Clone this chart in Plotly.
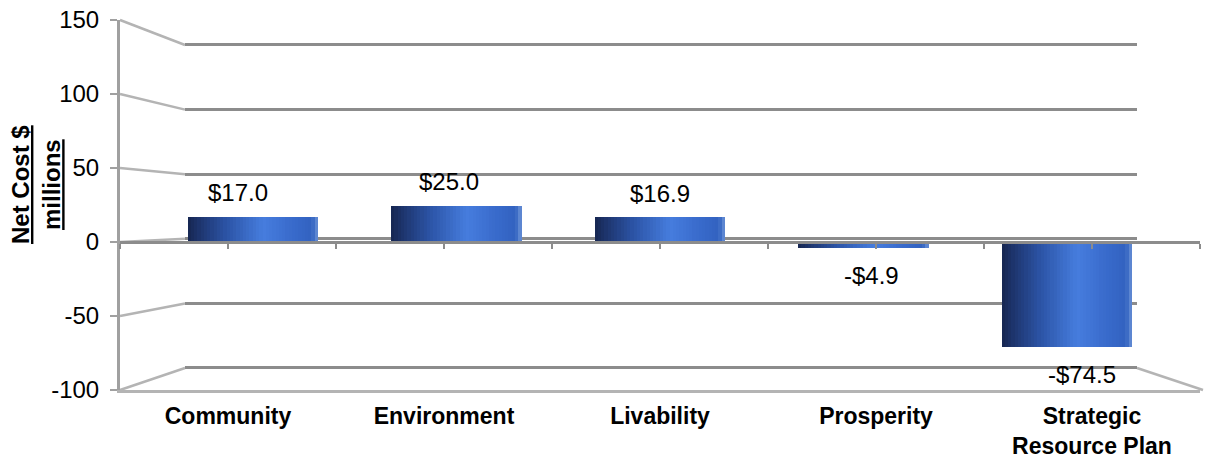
import plotly.graph_objects as go

# ---------------- data ----------------
categories = ["Community", "Environment", "Livability", "Prosperity", "Strategic<br>Resource Plan"]
net_cost = [17.0, 25.0, 16.9, -4.9, -74.5]
value_labels = ["$17.0", "$25.0", "$16.9", "-$4.9", "-$74.5"]
y_ticks = [-100, -50, 0, 50, 100, 150]
y_ticktext = ["-100", "-50", "0", "50", "100", "150"]

# ---------------- geometry (pixels) ----------------
W, H = 1205, 460
def fx(px):
    return px / W
def fy(py):
    return 1 - py / H

YMIN, YMAX = -100, 150
FRONT_L, FRONT_R = 120, 1200      # front (category) axis
BACK_L, BACK_R = 185, 1137        # back wall
LEFT_TOP, LEFT_BOT = 20, 390      # left axis: 150 / -100
BACK_TOP, BACK_BOT = 45, 368      # back wall: 150 / -100
BAR_TOP, BAR_BOT = 28, 383        # bar plane: 150 / -100
BAR_C, BAR_STEP = 660, 203.5

def y_left(v):
    return LEFT_BOT - (v - YMIN) / (YMAX - YMIN) * (LEFT_BOT - LEFT_TOP)
def y_back(v):
    return BACK_BOT - (v - YMIN) / (YMAX - YMIN) * (BACK_BOT - BACK_TOP)

EXT = 2  # small range extension so edge gridlines are drawn
FONT = "Liberation Sans, Arial, sans-serif"
n = len(categories)
xs = list(range(n))

fig = go.Figure()

# ---- back wall gridlines (subplot x/y) ----
fig.add_trace(go.Scatter(x=[None], y=[None], xaxis="x", yaxis="y", showlegend=False, hoverinfo="skip"))

# ---- gradient cylinders (subplot x2/y2) ----
stops = [
    (0.00, (22, 38, 80)),
    (0.10, (30, 54, 112)),
    (0.30, (44, 84, 166)),
    (0.58, (70, 125, 222)),
    (0.78, (58, 108, 205)),
    (0.95, (50, 98, 192)),
    (0.985, (80, 125, 205)),
    (1.00, (150, 180, 228)),
]
def grad(t):
    for (t0, c0), (t1, c1) in zip(stops[:-1], stops[1:]):
        if t0 <= t <= t1:
            f = (t - t0) / (t1 - t0) if t1 > t0 else 0
            return "rgb(%d,%d,%d)" % tuple(round(a + (b - a) * f) for a, b in zip(c0, c1))
    return "rgb(%d,%d,%d)" % stops[-1][1]

BW = 0.64
NS = 40
sw = BW / NS
for k in range(NS):
    t = (k + 0.5) / NS
    fig.add_trace(go.Bar(
        x=xs, y=net_cost, base=0, xaxis="x2", yaxis="y2",
        width=sw * 1.15, offset=-BW / 2 + k * sw,
        marker=dict(color=grad(t), line=dict(width=0)),
        showlegend=False, hoverinfo="skip",
    ))

# ---- front axes (subplot x3/y3) ----
fig.add_trace(go.Scatter(x=categories, y=[None] * n, xaxis="x3", yaxis="y3",
                         showlegend=False, hoverinfo="skip"))
fig.add_trace(go.Scatter(x=[None], y=[None], xaxis="x4", yaxis="y3",
                         showlegend=False, hoverinfo="skip"))

# ---- data labels ----
annotations = []
for i, (v, lab) in enumerate(zip(net_cost, value_labels)):
    annotations.append(dict(
        x=i, y=v, xref="x2", yref="y2", text=lab, showarrow=False,
        font=dict(family=FONT, size=24, color="black"),
        xanchor="center", yanchor="middle",
        yshift=24 if v >= 0 else -28, xshift=(i - 2) * 7.5,
    ))
# axis title
annotations.append(dict(
    x=fx(36), y=fy(185), xref="paper", yref="paper",
    text="<b><u>Net Cost $</u></b><br><b><u>millions</u></b>",
    textangle=-90, showarrow=False,
    font=dict(family=FONT, size=24, color="black"),
    xanchor="center", yanchor="middle",
))

# ---- side-wall / floor perspective edges ----
shapes = []
for v in y_ticks:
    shapes.append(dict(type="line", xref="paper", yref="paper",
                       x0=fx(FRONT_L), y0=fy(y_left(v)), x1=fx(BACK_L), y1=fy(y_back(v)),
                       line=dict(color="#b4b4b4", width=2.5), layer="below"))
shapes.append(dict(type="line", xref="paper", yref="paper",
                   x0=fx(BACK_R), y0=fy(y_back(YMIN)), x1=fx(FRONT_R + 3), y1=fy(y_left(YMIN)),
                   line=dict(color="#b4b4b4", width=2.5), layer="below"))

GRID = "#8c8c8c"
fig.update_layout(
    width=W, height=H, margin=dict(l=0, r=0, t=0, b=0, autoexpand=False),
    paper_bgcolor="white", plot_bgcolor="rgba(0,0,0,0)",
    barmode="overlay", bargap=0,
    font=dict(family=FONT, color="black"),
    showlegend=False,
    xaxis=dict(domain=[fx(BACK_L), fx(BACK_R)], range=[0, 1], anchor="y",
               visible=False, fixedrange=True, automargin=False),
    yaxis=dict(domain=[fy(y_back(YMIN - EXT)), fy(y_back(YMAX + EXT))],
               range=[YMIN - EXT, YMAX + EXT], anchor="x", automargin=False,
               tickvals=y_ticks, showticklabels=False, ticks="", showline=False,
               showgrid=True, gridcolor=GRID, gridwidth=3, zeroline=False, fixedrange=True),
    xaxis2=dict(domain=[fx(BAR_C - 2.5 * BAR_STEP), fx(BAR_C + 2.5 * BAR_STEP)],
                range=[-0.5, n - 0.5], anchor="y2", visible=False, fixedrange=True,
                automargin=False),
    yaxis2=dict(domain=[fy(BAR_BOT), fy(BAR_TOP)], range=[YMIN, YMAX], anchor="x2",
                visible=False, fixedrange=True, automargin=False),
    xaxis3=dict(domain=[fx(FRONT_L), fx(FRONT_R)], type="category", range=[-0.5, n - 0.5],
                anchor="y3", showline=True, linecolor="#b4b4b4", linewidth=2.5,
                ticks="", showgrid=False, zeroline=False, automargin=False,
                tickfont=dict(family=FONT, size=23, color="black", weight="bold"),
                ticklabelstandoff=4, fixedrange=True),
    xaxis4=dict(overlaying="x3", range=[-0.5, n - 0.5], anchor="free", position=fy(243),
                tickvals=[i * 0.5 - 0.5 for i in range(2 * n + 1)], ticks="outside",
                ticklen=5, tickwidth=2, tickcolor=GRID, showticklabels=False, automargin=False,
                showline=False, showgrid=False, zeroline=False, fixedrange=True),
    yaxis3=dict(domain=[fy(LEFT_BOT), fy(LEFT_TOP)], range=[YMIN, YMAX], anchor="x3",
                tickvals=y_ticks, ticktext=y_ticktext, automargin=False,
                ticks="outside", ticklen=7, tickwidth=2, tickcolor="#a0a0a0",
                showline=True, linecolor="#a0a0a0", linewidth=3, ticklabelstandoff=6,
                showgrid=False, zeroline=True, zerolinecolor=GRID, zerolinewidth=3,
                tickfont=dict(family=FONT, size=24, color="black"), fixedrange=True),
    annotations=annotations,
    shapes=shapes,
)

fig.write_html("out.html")
